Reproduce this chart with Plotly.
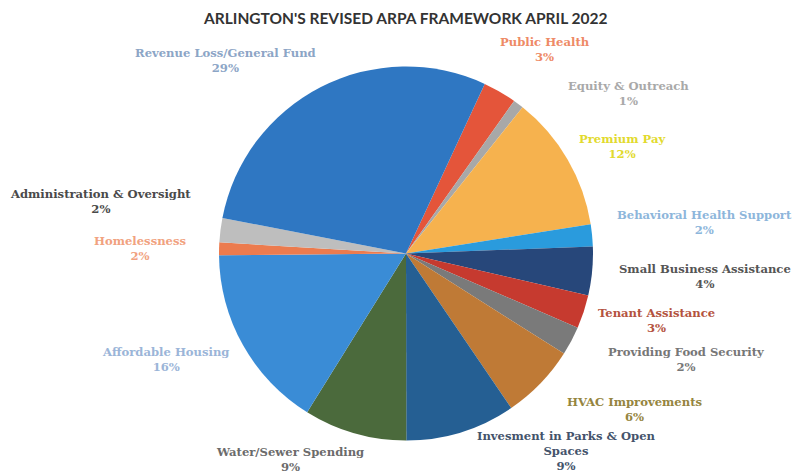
import plotly.graph_objects as go

categories = ["Public Health", "Equity & Outreach", "Premium Pay", "Behavioral Health Support",
              "Small Business Assistance", "Tenant Assistance", "Providing Food Security",
              "HVAC Improvements", "Invesment in Parks & Open Spaces", "Water/Sewer Spending",
              "Affordable Housing", "Homelessness", "Administration & Oversight",
              "Revenue Loss/General Fund"]
shares = [2.9, 0.9, 11.8, 1.9, 4.2, 2.9, 2.5, 6.5, 9.5, 8.9, 16.0, 1.1, 2.1, 28.9]
pct_labels = ["3%", "1%", "12%", "2%", "4%", "3%", "2%", "6%", "9%", "9%", "16%", "2%", "2%", "29%"]
label_lines = ["Public Health", "Equity & Outreach", "Premium Pay", "Behavioral Health Support",
               "Small Business Assistance", "Tenant Assistance", "Providing Food Security",
               "HVAC Improvements", "Invesment in Parks & Open<br>Spaces", "Water/Sewer Spending",
               "Affordable Housing", "Homelessness", "Administration & Oversight",
               "Revenue Loss/General Fund"]

slice_colors = ["#E4553A", "#A8A8A8", "#F6B24E", "#2A9BDD", "#27477A", "#C63A2F", "#7A7A7A",
                "#BF7A36", "#255F93", "#4B6A3C", "#3A8CD6", "#EC7B4E", "#BEBEBE", "#2F77C2"]
label_colors = ["#EE8A66", "#A9A9A9", "#E2DA2E", "#8DB6DB", "#555555", "#B4533E", "#777777",
                "#958540", "#44536B", "#6B6B6B", "#9BB5D8", "#F1A27F", "#4A4A4A", "#8CA5C6"]
# label anchor positions in pixels (x, y of first line center)
label_pos = [(545, 42), (628, 86), (623, 139), (704, 215), (705, 269), (656, 313), (686, 352),
             (634, 402), (566, 436), (290, 452), (165, 352), (140, 241), (100, 194), (225, 53)]

W, H = 803, 476
OFF = 8  # page body margin offset
cx, cy, r = 406, 253.5, 187


def px2x(px):
    return (px - OFF) / W


def py2y(py):
    return 1 - (py - OFF) / H


fig = go.Figure(go.Pie(
    labels=categories, values=shares, sort=False, direction="clockwise", rotation=24.9,
    marker=dict(colors=slice_colors, line=dict(width=0)),
    textinfo="none", hoverinfo="label+percent", showlegend=False,
    domain=dict(x=[px2x(cx - r), px2x(cx + r)], y=[py2y(cy + r), py2y(cy - r)]),
))

annotations = [dict(text="<b>ARLINGTON'S REVISED ARPA FRAMEWORK APRIL 2022</b>", x=px2x(405), y=py2y(18),
                    xref="paper", yref="paper", showarrow=False, xanchor="center", yanchor="middle",
                    font=dict(family="Lato", size=15.5, color="#333333"))]
for name, pct, col, (px, py) in zip(label_lines, pct_labels, label_colors, label_pos):
    annotations.append(dict(text="<b>" + name + "<br>" + pct + "</b>", x=px2x(px), y=py2y(py - 9),
                            xref="paper", yref="paper", showarrow=False, xanchor="center", yanchor="top",
                            align="center",
                            font=dict(family="DejaVu Serif", size=11.6, color=col)))

fig.update_layout(width=W, height=H, margin=dict(l=0, r=0, t=0, b=0),
                  paper_bgcolor="white", plot_bgcolor="white", annotations=annotations)
fig.write_html("out.html")
